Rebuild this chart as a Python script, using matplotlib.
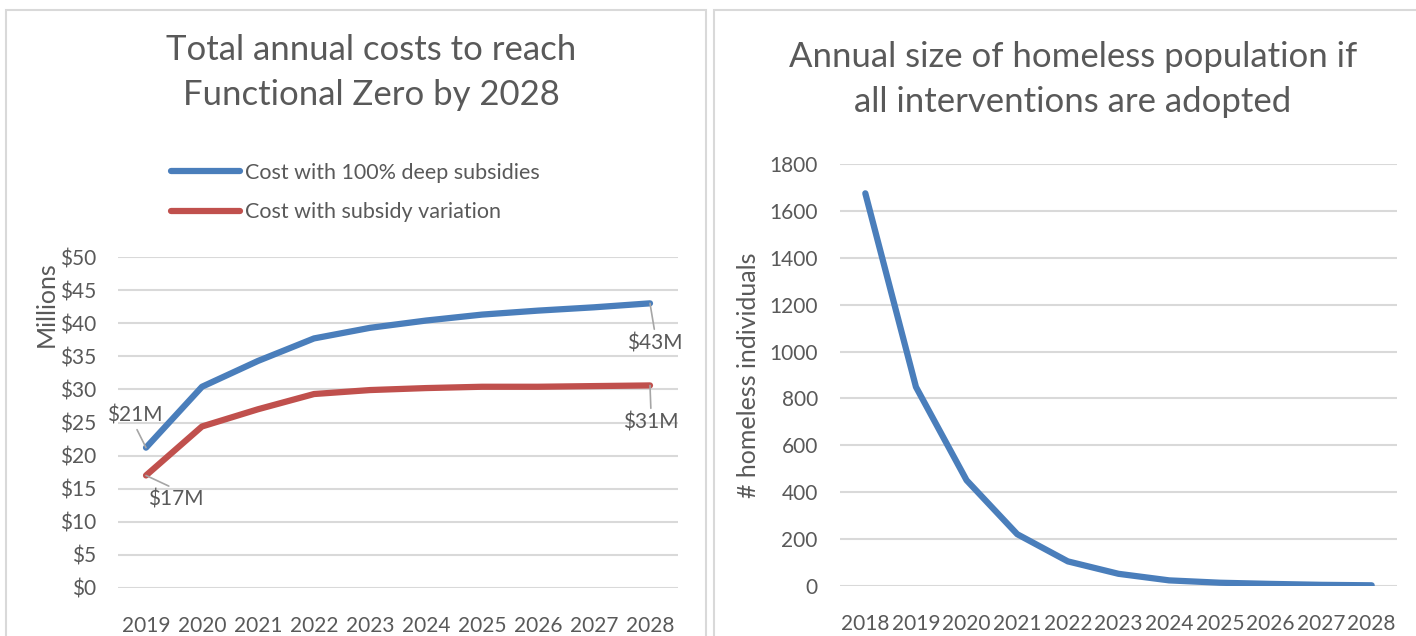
import matplotlib.pyplot as plt
from matplotlib.patches import Rectangle

plt.rcParams["font.family"] = ["Lato", "DejaVu Sans"]

TXT = "#595959"
GRID = "#d9d9d9"
BLUE = "#4a7ebb"
RED = "#c0504d"

# left chart data (millions of dollars)
cost_years = ["2019", "2020", "2021", "2022", "2023", "2024", "2025", "2026", "2027", "2028"]
cost_deep = [21.2, 30.4, 34.3, 37.7, 39.3, 40.4, 41.3, 41.9, 42.4, 43.0]
cost_variation = [17.0, 24.4, 27.0, 29.3, 29.9, 30.2, 30.4, 30.4, 30.5, 30.6]
cost_ticks = [0, 5, 10, 15, 20, 25, 30, 35, 40, 45, 50]

# right chart data
pop_years = ["2018", "2019", "2020", "2021", "2022", "2023", "2024", "2025", "2026", "2027", "2028"]
pop_homeless = [1675, 849, 451, 221, 105, 52, 24, 14, 9, 5, 3]
pop_ticks = [0, 200, 400, 600, 800, 1000, 1200, 1400, 1600, 1800]

W, H = 1416, 636
fig = plt.figure(figsize=(W / 100, H / 100), dpi=100)


def px(x, y):
    return x / W, 1 - y / H


# panel borders
for x0, x1 in [(6, 706), (714, 1430)]:
    fig.patches.append(Rectangle(px(x0, 660), (x1 - x0) / W, 650 / H,
                                 transform=fig.transFigure, fill=False,
                                 edgecolor=GRID, linewidth=1.5, clip_on=False))


def style(ax):
    for s in ax.spines.values():
        s.set_visible(False)
    ax.tick_params(length=0, colors=TXT, labelsize=15)
    ax.tick_params(axis="y", pad=16)
    ax.tick_params(axis="x", pad=20)
    ax.yaxis.grid(True, color=GRID, linewidth=1.5)
    ax.set_axisbelow(True)


# ---- left chart ----
ax1 = fig.add_axes([118 / W, (H - 588) / H, 560 / W, 331 / H])
style(ax1)
x1 = range(len(cost_years))
ax1.plot(x1, cost_deep, color=BLUE, lw=4.5, solid_capstyle="round",
         label="Cost with 100% deep subsidies")
ax1.plot(x1, cost_variation, color=RED, lw=4.5, solid_capstyle="round",
         label="Cost with subsidy variation")
ax1.set_xlim(-0.5, len(cost_years) - 0.5)
ax1.set_ylim(0, 50)
ax1.set_xticks(list(x1))
ax1.set_xticklabels(cost_years)
ax1.set_yticks(cost_ticks)
ax1.set_yticklabels(["$%d" % v for v in cost_ticks])

lead = dict(arrowstyle="-", color="#a6a6a6", lw=1.2, shrinkA=1, shrinkB=0)
ann = [
    (0, cost_deep[0], "$21M", (-11, 32), (0.5, 0.0)),
    (0, cost_variation[0], "$17M", (30, -24), (0.5, 1.0)),
    (9, cost_deep[9], "$43M", (5, -40), (0.5, 1.0)),
    (9, cost_variation[9], "$31M", (1, -37), (0.5, 1.0)),
]
for xi, yi, s, off, rp in ann:
    ax1.annotate(s, (xi, yi), xytext=off, textcoords="offset pixels",
                 ha="center", va="center", fontsize=15, color=TXT,
                 arrowprops=dict(lead, relpos=rp))

leg = ax1.legend(loc="upper left", bbox_to_anchor=px(171, 163), bbox_transform=fig.transFigure,
                 frameon=False, fontsize=15.5, labelcolor=TXT, handlelength=3.2,
                 handletextpad=0.25, labelspacing=0.9, borderpad=0, borderaxespad=0)
for ln in leg.get_lines():
    ln.set_solid_capstyle("round")

fig.text(*px(46, 304), "Millions", rotation=90, ha="center", va="center",
         fontsize=18, color=TXT)

for y, line in [(60, "Total annual costs to reach"), (105, "Functional Zero by 2028")]:
    fig.text(*px(371, y), line, ha="center", va="baseline", fontsize=25, color=TXT)

# ---- right chart ----
ax2 = fig.add_axes([840 / W, (H - 586) / H, 557 / W, 422 / H])
style(ax2)
x2 = range(len(pop_years))
ax2.plot(x2, pop_homeless, color=BLUE, lw=4.5, solid_capstyle="round")
ax2.set_xlim(-0.5, len(pop_years) - 0.5)
ax2.set_ylim(0, 1800)
ax2.set_xticks(list(x2))
ax2.set_xticklabels(pop_years)
ax2.set_yticks(pop_ticks)

fig.text(*px(749, 375), "# homeless individuals", rotation=90, ha="center", va="center",
         fontsize=18, color=TXT)

for y, line in [(67, "Annual size of homeless population if"), (112, "all interventions are adopted")]:
    fig.text(*px(1073, y), line, ha="center", va="baseline", fontsize=25, color=TXT)

fig.savefig("out.png", dpi=100)
